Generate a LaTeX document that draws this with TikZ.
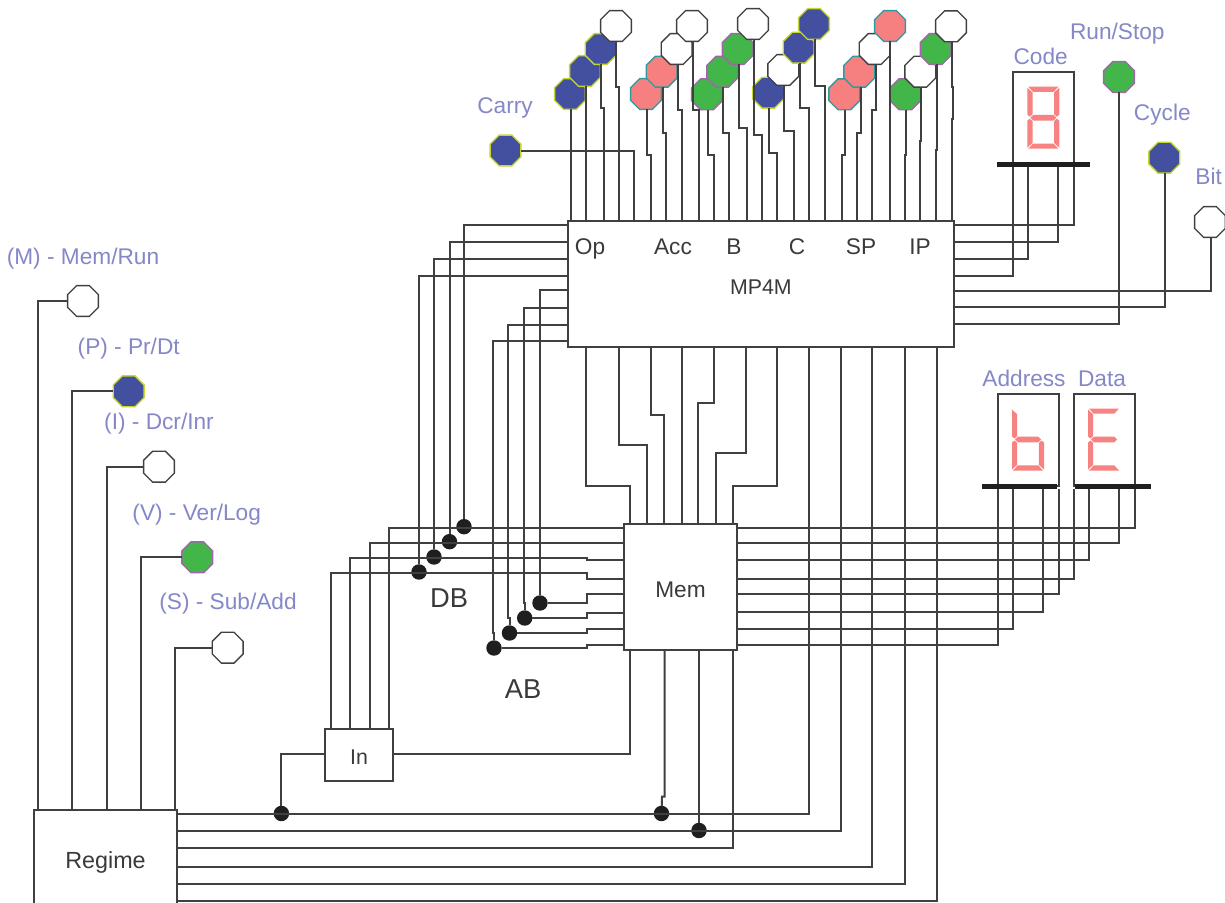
\documentclass[tikz,border=0pt]{standalone}
\usepackage{fontspec}
\setmainfont{Liberation Sans}
\usetikzlibrary{shapes.geometric}
\definecolor{wirec}{HTML}{404040}
\definecolor{labc}{HTML}{8488C8}
\definecolor{txtc}{HTML}{3A3A3A}
\definecolor{segc}{HTML}{F78282}
\definecolor{ledblue}{HTML}{4350A0}
\definecolor{ledblueb}{HTML}{C4D82E}
\definecolor{ledgreen}{HTML}{43B649}
\definecolor{ledgreenb}{HTML}{A265AC}
\definecolor{ledred}{HTML}{F68080}
\definecolor{ledredb}{HTML}{2F9AA0}
\newcommand\fs[1]{\fontsize{#1}{#1}\selectfont}
\tikzset{
  wire/.style={draw=wirec,line width=1.5pt},
  led/.style={regular polygon,regular polygon sides=8,inner sep=0pt,outer sep=0pt,minimum size=25pt,line width=1pt},
  ledb/.style={led,fill=ledblue,draw=ledblueb},
  ledg/.style={led,fill=ledgreen,draw=ledgreenb},
  ledr/.style={led,fill=ledred,draw=ledredb},
  ledw/.style={led,fill=white,draw=wirec},
  boxn/.style={rectangle,draw=wirec,line width=1.5pt,fill=white,inner sep=0pt,outer sep=0pt,text=txtc},
  dotn/.style={circle,fill=black!88,inner sep=0pt,outer sep=0pt,minimum size=11.6pt},
  barn/.style={rectangle,fill=black!88,inner sep=0pt,outer sep=0pt,minimum height=3.8pt},
  lbl/.style={inner sep=0pt,text=labc,font=\fs{17},text height=12pt,text depth=0pt},
  reg/.style={inner sep=0pt,text=txtc,font=\fs{17},text height=12pt,text depth=0pt},
  big/.style={inner sep=0pt,text=txtc,font=\fs{20.5},text height=14.5pt,text depth=0pt},
  seg/.style={fill=segc,draw=none}
}
\newcommand\sega{\fill[seg] (1,0)--(31,0)--(26.2,5.2)--(5.8,5.2)--cycle;}
\newcommand\segg{\fill[seg] (3,31)--(5.8,28.2)--(26.2,28.2)--(29,31)--(26.2,33.8)--(5.8,33.8)--cycle;}
\newcommand\segd{\fill[seg] (1,62)--(31,62)--(26.2,56.8)--(5.8,56.8)--cycle;}
\newcommand\segf{\fill[seg] (0,1)--(5.2,5.8)--(5.2,27.5)--(2.5,30)--(0,28)--cycle;}
\newcommand\sege{\fill[seg] (0,34)--(2.5,32)--(5.2,34.5)--(5.2,56.2)--(0,61)--cycle;}
\newcommand\segb{\fill[seg] (32,1)--(26.8,5.8)--(26.8,27.5)--(29.5,30)--(32,28)--cycle;}
\newcommand\segc{\fill[seg] (32,34)--(29.5,32)--(26.8,34.5)--(26.8,56.2)--(32,61)--cycle;}
\begin{document}
\begin{tikzpicture}[x=0.75pt,y=-0.75pt]
\useasboundingbox (0,0) rectangle (1225,903);
\fill[white] (0,0) rectangle (1225,903);

% main blocks
\node[boxn,minimum width=386.3*0.75pt,minimum height=125.7*0.75pt,font=\fs{16},text height=15pt,text depth=0pt] (mp) at (760.85,284.15) {MP4M};
\node[boxn,minimum width=112.4*0.75pt,minimum height=126*0.75pt,font=\fs{17},text height=15pt,text depth=0pt] (mem) at (680.5,587) {Mem};
\node[boxn,minimum width=67.4*0.75pt,minimum height=51.4*0.75pt,font=\fs{16},text height=13.5pt,text depth=0pt] (inbox) at (359,755) {In};
\node[rectangle,inner sep=0pt,outer sep=0pt,text=txtc,font=\fs{17.5},minimum width=143*0.75pt,minimum height=93*0.75pt,text height=17.25pt,text depth=0pt] (regime) at (105.5,856.5) {Regime};
\draw[wire] (regime.south west) |- (regime.north east) -- (regime.south east);

% displays
\node[boxn,minimum width=61.3*0.75pt,minimum height=92.3*0.75pt] (code) at (1043.35,118.15) {};
\node[boxn,minimum width=61*0.75pt,minimum height=92*0.75pt] (addr) at (1028.2,440.3) {};
\node[boxn,minimum width=61.3*0.75pt,minimum height=92*0.75pt] (data) at (1104.35,440.3) {};
\node[barn,minimum width=93.3*0.75pt] (codebar) at (1043.35,164.3) {};
\node[barn,minimum width=75.6*0.75pt] (addrbar) at (1019.5,486.3) {};
\node[barn,minimum width=75.7*0.75pt] (databar) at (1112.85,486.3) {};
\begin{scope}[shift={(1027.3,86.7)}]\sega\segb\segc\segd\sege\segf\segg\end{scope}
\begin{scope}[shift={(1012,408.5)}]\segf\sege\segg\segc\segd\end{scope}
\begin{scope}[shift={(1088,408.5)}]\sega\segf\sege\segg\segd\end{scope}

% LEDs on top
\node[ledb] (op1) at (570,94) {};
\node[ledb] (op2) at (585,71) {};
\node[ledb] (op3) at (600.7,49) {};
\node[ledw] (op4) at (616,26) {};
\node[ledr] (ac1) at (646,94) {};
\node[ledr] (ac2) at (661.7,71.7) {};
\node[ledw] (ac3) at (676.7,49) {};
\node[ledw] (ac4) at (692,26) {};
\node[ledg] (bb1) at (707,94.3) {};
\node[ledg] (bb2) at (722.3,71.7) {};
\node[ledg] (bb3) at (737.7,49) {};
\node[ledw] (bb4) at (753,24) {};
\node[ledb] (cc1) at (768.3,92.7) {};
\node[ledw] (cc2) at (783.3,70) {};
\node[ledb] (cc3) at (798.7,47.7) {};
\node[ledb] (cc4) at (814,24) {};
\node[ledr] (sp1) at (844.3,94.3) {};
\node[ledr] (sp2) at (859.3,71.7) {};
\node[ledw] (sp3) at (874.7,49) {};
\node[ledr] (sp4) at (890,26) {};
\node[ledg] (ip1) at (905.3,94.3) {};
\node[ledw] (ip2) at (920.3,71.7) {};
\node[ledg] (ip3) at (935.7,49) {};
\node[ledw] (ip4) at (951,26.3) {};
\node[ledb] (carry) at (505.5,150.5) {};
\node[ledg] (run) at (1119,77) {};
\node[ledb] (cycle) at (1164.3,157.7) {};
\node[ledw] (bit) at (1210,222) {};
% LEDs on the left
\node[ledw] (lm) at (83,301) {};
\node[ledb] (lp) at (128.7,391.3) {};
\node[ledw] (li) at (159,466.7) {};
\node[ledg] (lv) at (197.3,557.3) {};
\node[ledw] (ls) at (227.7,647.7) {};

% junction dots
\node[dotn] (d1) at (464,526.7) {};
\node[dotn] (d2) at (449.5,541.7) {};
\node[dotn] (d3) at (434,557) {};
\node[dotn] (d4) at (419,572) {};
\node[dotn] (a1) at (540,603) {};
\node[dotn] (a2) at (524.7,618) {};
\node[dotn] (a3) at (509.5,633) {};
\node[dotn] (a4) at (494,648) {};
\node[dotn] (k1) at (281.4,813.5) {};
\node[dotn] (k2) at (661.5,813.5) {};
\node[dotn] (k3) at (699,830.5) {};

% LED wires to MP4M
\foreach \l/\a/\j/\b in {op1/571/150/571,op2/586/150/586,op3/600.7/108.3/603.7,op4/616/87.3/618.7,
  ac1/647.3/155/651.3,ac2/662.7/132.7/666.3,ac3/677.7/110/681.7,ac4/692.5/110/699.3,
  bb1/708/155/714.3,bb2/723.3/132.7/729.3,bb3/738.7/128.3/746.7,bb4/753.7/135/761.7,
  cc1/769/153.3/777,cc2/784.3/131/794,cc3/799.7/108.3/809.3,cc4/815/85.7/824.7,
  sp1/845.3/155/841.7,sp2/860.7/132.7/856.7,sp3/876/110/872.3,sp4/890/110/889.5,
  ip1/906/155/904.7,ip2/921/141/920,ip3/936.7/150/936.3}
  \draw[wire] (\l.south -| \a,0) -- (\a,\j) -- (\b,\j) -- (mp.north -| \b,0);
\draw[wire] (ip4.south -| 951.7,0) -- (951.7,87) -- (953.3,87) -- (953.3,119) -- (951.7,119) -- (mp.north -| 951.7,0);
\draw[wire] (carry.east) -| (mp.north -| 634,0);

% MP4M right side
\draw[wire] (mp.east |- 0,225) -| (codebar.south -| 1074,0);
\draw[wire] (mp.east |- 0,241.7) -| (codebar.south -| 1058.3,0);
\draw[wire] (mp.east |- 0,258.7) -| (codebar.south -| 1028.3,0);
\draw[wire] (mp.east |- 0,275.7) -| (codebar.south -| 1012.7,0);
\draw[wire] (mp.east |- 0,291) -| (bit.south -| 1210.7,0);
\draw[wire] (mp.east |- 0,307.3) -| (cycle.south -| 1165,0);
\draw[wire] (mp.east |- 0,324.3) -| (run.south -| 1119.3,0);

% MP4M left side: data bus
\draw[wire] (mp.west |- 0,224.7) -| (d1);
\draw[wire] (mp.west |- 0,242) -| (d2);
\draw[wire] (mp.west |- 0,258.7) -| (d3);
\draw[wire] (mp.west |- 0,275.7) -| (d4);
% MP4M left side: address bus
\draw[wire] (mp.west |- 0,290.3) -| (a1);
\draw[wire] (mp.west |- 0,307.7) -- (523.7,307.7) -- (523.7,603) -- (524.7,603) -- (a2);
\draw[wire] (mp.west |- 0,324.7) -- (508.3,324.7) -- (508.3,618) -- (509.5,618) -- (a3);
\draw[wire] (mp.west |- 0,341.3) -- (493.3,341.3) -- (493.3,633) -- (494,633) -- (a4);

% In to Mem left side
\draw[wire] (inbox.north -| 388.7,0) |- (mem.west |- 0,528.3);
\draw[wire] (inbox.north -| 369.5,0) |- (mem.west |- 0,543);
\draw[wire] (inbox.north -| 350.3,0) |- (586.7,558.3) -- (586.7,560) -- (mem.west |- 0,560);
\draw[wire] (inbox.north -| 331.4,0) |- (586.7,573.3) -- (586.7,578.7) -- (mem.west |- 0,578.7);
\draw[wire] (a1.east) -- (586.7,603) -- (586.7,594) -- (mem.west |- 0,594);
\draw[wire] (a2.east) -- (586.7,618) -- (586.7,612.7) -- (mem.west |- 0,612.7);
\draw[wire] (a3.east) -- (586.7,633) -- (586.7,629.3) -- (mem.west |- 0,629.3);
\draw[wire] (a4.east) -- (586.7,648) -- (586.7,645) -- (mem.west |- 0,645);

% MP4M bottom to Mem top
\foreach \a/\j/\b in {586.3/486/630.3,618.7/445.3/647.3,651.3/415.3/664.3,681.7/415/681.7,714/403.3/698.3,746.3/452.7/715.7,776.7/486/733}
  \draw[wire] (mp.south -| \a,0) -- (\a,\j) -- (\b,\j) -- (mem.north -| \b,0);

% Mem right side to displays
\draw[wire] (mem.east |- 0,527.7) -| (databar.south -| 1135,0);
\draw[wire] (mem.east |- 0,543.3) -| (databar.south -| 1119,0);
\draw[wire] (mem.east |- 0,560) -| (databar.south -| 1089.3,0);
\draw[wire] (mem.east |- 0,579) -| (databar.south -| 1073.7,0);
\draw[wire] (mem.east |- 0,594) -| (addrbar.south -| 1058.7,0);
\draw[wire] (mem.east |- 0,612.3) -| (addrbar.south -| 1043.3,0);
\draw[wire] (mem.east |- 0,629.3) -| (addrbar.south -| 1013,0);
\draw[wire] (mem.east |- 0,645) -| (addrbar.south -| 997.7,0);

% In and Mem bottom
\draw[wire] (inbox.east |- 0,753.7) -| (mem.south -| 630.4,0);
\draw[wire] (inbox.west |- 0,753.7) -| (k1);
\draw[wire] (mem.south -| 664.6,0) -- (664.6,796.7) -- (662,796.7) -- (k2);
\draw[wire] (mem.south -| 699,0) -- (k3);

% Regime wires
\draw[wire] (regime.east |- 0,814) -| (mp.south -| 809.3,0);
\draw[wire] (regime.east |- 0,831.3) -| (mp.south -| 841.4,0);
\draw[wire] (regime.east |- 0,848) -| (mem.south -| 733,0);
\draw[wire] (regime.east |- 0,866.7) -| (mp.south -| 872,0);
\draw[wire] (regime.east |- 0,884) -| (mp.south -| 904.5,0);
\draw[wire] (regime.east |- 0,900.7) -| (mp.south -| 937,0);

% left LEDs to Regime
\draw[wire] (lm.west) -| (regime.north -| 38.3,0);
\draw[wire] (lp.west) -| (regime.north -| 72.3,0);
\draw[wire] (li.west) -| (regime.north -| 106.7,0);
\draw[wire] (lv.west) -| (regime.north -| 141,0);
\draw[wire] (ls.west) -| (regime.north -| 175.3,0);

% labels
\node[lbl] (tcarry) at (505,105) {Carry};
\node[lbl] (tcode) at (1040.7,56) {Code};
\node[lbl] (trun) at (1117.3,32) {Run/Stop};
\node[lbl] (tcycle) at (1162.3,112.5) {Cycle};
\node[lbl] (tbit) at (1208.7,176) {Bit};
\node[lbl] (taddr) at (1024,378) {Address};
\node[lbl] (tdata) at (1102,378) {Data};
\node[lbl] (tm) at (83,256) {(M) - Mem/Run};
\node[lbl] (tp) at (128.7,346) {(P) - Pr/Dt};
\node[lbl] (ti) at (159,421.7) {(I) - Dcr/Inr};
\node[lbl] (tv) at (196.7,512.3) {(V) - Ver/Log};
\node[lbl] (ts) at (228,601.7) {(S) - Sub/Add};
\node[reg] (top) at (590,246) {Op};
\node[reg] (tacc) at (673,246) {Acc};
\node[reg] (tb) at (734,246) {B};
\node[reg] (tc) at (797,246) {C};
\node[reg] (tsp) at (861,246) {SP};
\node[reg] (tip) at (920,246) {IP};
\node[big] (tdb) at (449,598) {DB};
\node[big] (tab) at (523,689) {AB};
\end{tikzpicture}
\end{document}
